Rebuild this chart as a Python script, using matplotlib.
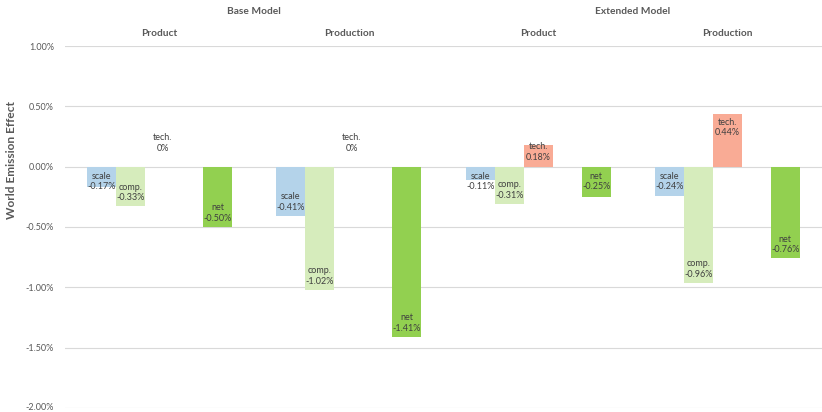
import numpy as np
import matplotlib
matplotlib.use("Agg")
import matplotlib.pyplot as plt
import matplotlib.transforms as mtransforms
from matplotlib.ticker import FuncFormatter

plt.rcParams["font.family"] = ["Lato", "DejaVu Sans"]

# effects on world emissions, in percent
models = ["Base Model", "Extended Model"]
groups = ["Product", "Production", "Product", "Production"]
scale = [-0.17, -0.41, -0.11, -0.24]
comp = [-0.33, -1.02, -0.31, -0.96]
tech = [0.0, 0.0, 0.18, 0.44]
net = [-0.50, -1.41, -0.25, -0.76]

series = [("scale", scale, "#b4d3ea", 0),
          ("comp.", comp, "#d6ecbc", 1),
          ("tech.", tech, "#f9ab95", 2),
          ("net", net, "#92d050", 4)]

W, H, DPI = 822, 412, 100
fig = plt.figure(figsize=(W / DPI, H / DPI), dpi=DPI)
ax = fig.add_axes([65 / W, 1 - 408 / H, 757 / W, 362 / H])

x = np.arange(len(groups))
w = 0.1532
text_c = "#404040"

ax.set_xlim(-0.5, len(groups) - 0.5)
ax.set_ylim(-2.0, 1.0)
px_per_unit = 362 / 3.0

for name, vals, color, slot in series:
    xs = x + (slot - 2) * w
    ax.bar(xs, vals, width=w, color=color, zorder=2)
    for xi, v in zip(xs, vals):
        label = f"{name}\n{v:.2f}%" if v != 0 else f"{name}\n0%"
        length = abs(v) * px_per_unit
        if v == 0:
            xy, off, va = (xi, 0), (3, 14), "bottom"
        elif v < 0:
            if length < 31:
                xy, off, va = (xi, 0), (0, -5), "top"
            else:
                xy, off, va = (xi, v), (0, 4), "bottom"
        else:
            if length < 31:
                xy, off, va = (xi, 0), (0, 5), "bottom"
            else:
                xy, off, va = (xi, v), (0, -4), "top"
        ax.annotate(label, xy=xy, xytext=off, textcoords="offset pixels",
                    ha="center", va=va, fontsize=6.5, color=text_c,
                    linespacing=1.25, zorder=3)

# group headers
for xi, g in zip(x, groups):
    ax.annotate(g, xy=(xi, 1 - 33 / H), xycoords=("data", "figure fraction"),
                ha="center", va="center", fontsize=7.3, fontweight="bold", color="#595959")
for i, m in enumerate(models):
    ax.annotate(m, xy=(2 * i + 0.5, 1 - 12 / H), xycoords=("data", "figure fraction"),
                ha="center", va="center", fontsize=7.3, fontweight="bold", color="#595959")

ax.set_yticks(np.arange(-2.0, 1.01, 0.5))
ax.yaxis.set_major_formatter(FuncFormatter(lambda v, p: f"{v:.2f}%"))
ax.tick_params(axis="y", length=0, labelsize=6.5, labelcolor="#595959", pad=8)
ax.tick_params(axis="x", length=0, labelbottom=False)
ax.grid(axis="y", color="#d9d9d9", linewidth=0.8, zorder=0)
for s in ax.spines.values():
    s.set_visible(False)

# keep the lowest tick label inside the canvas
lowest = ax.get_yticklabels()[0]
lowest.set_transform(lowest.get_transform() +
                     mtransforms.ScaledTranslation(0, 2 / DPI, fig.dpi_scale_trans))

fig.text(12 / W, 1 - 160 / H, "World Emission Effect", rotation=90, ha="center",
         va="center", fontsize=8.6, fontweight="bold", color="#595959")

fig.savefig("out.png", dpi=DPI)
